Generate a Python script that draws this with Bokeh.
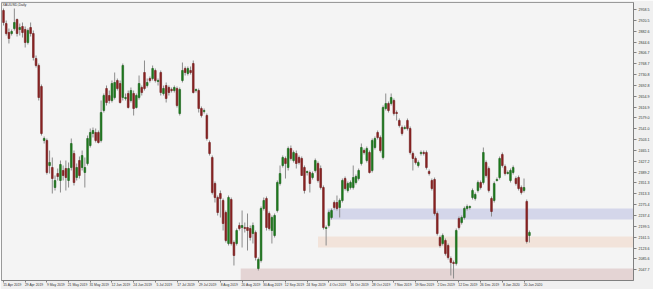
from bokeh.plotting import figure
from bokeh.models import Range1d, FixedTicker, Label, ColumnDataSource, PrintfTickFormatter, LinearAxis
from bokeh.embed import file_html
from bokeh.resources import INLINE

title_text = "XAUUSD,Daily"

opens = [2955, 2909.5, 2878, 2874.5, 2892, 2923.5, 2888.5, 2899, 2888.5, 2843,
         2895.5, 2874.5, 2787, 2762.5, 2689, 2500, 2500, 2412.5, 2405.5, 2335.5,
         2384.5, 2360, 2395, 2402, 2360, 2405.5, 2454.5, 2370.5, 2430, 2405.5,
         2388, 2419.5, 2482.5, 2524.5, 2528, 2528, 2500, 2605, 2682, 2657.5,
         2640, 2650.5, 2710, 2699.5, 2650.5, 2647, 2664.5, 2640, 2664.5, 2615.5,
         2650.5, 2685.5, 2738, 2692.5, 2717, 2717, 2745, 2706.5, 2738, 2664.5,
         2692.5, 2685.5, 2678.5, 2675, 2682, 2594.5, 2710, 2752, 2734.5, 2745,
         2769.5, 2675, 2675, 2612, 2601.5, 2587.5, 2493, 2440.5, 2349.5, 2300.5,
         2314.5, 2290, 2248, 2139.5, 2293.5, 2143, 2139.5, 2202.5, 2195.5, 2195.5,
         2195.5, 2192, 2174.5, 2178, 2052, 2080, 2262, 2297, 2244.5, 2185,
         2167.5, 2255, 2349.5, 2412.5, 2437, 2405.5, 2472, 2430, 2454.5, 2440.5,
         2437, 2405.5, 2388, 2388, 2370.5, 2395, 2419.5, 2402, 2335.5, 2192,
         2202.5, 2230.5, 2283, 2283, 2265.5, 2290, 2367, 2325, 2335.5, 2335.5,
         2353, 2367, 2419.5, 2465, 2430, 2458, 2395, 2475.5, 2528, 2510.5,
         2440.5, 2612, 2629.5, 2629.5, 2640, 2598, 2570, 2545.5, 2542, 2570,
         2542, 2454.5, 2437, 2412.5, 2454.5, 2458, 2458, 2391.5, 2360, 2363.5,
         2244.5, 2160.5, 2139.5, 2150, 2132.5, 2087, 2073, 2069.5, 2227, 2213,
         2230.5, 2262, 2265.5, 2300.5, 2297, 2325, 2353, 2353, 2423, 2402,
         2297, 2290, 2360, 2370.5, 2451, 2409, 2384.5, 2360, 2388, 2367,
         2370.5, 2335.5, 2325, 2286.5, 2167.5]

highs = [2962, 2920, 2892, 2888.5, 2962, 2927, 2909.5, 2913, 2899, 2892,
         2913, 2885, 2797.5, 2769.5, 2696, 2514, 2507, 2465, 2440.5, 2377.5,
         2402, 2430, 2412.5, 2430, 2423, 2507, 2465, 2419.5, 2444, 2465,
         2440.5, 2517.5, 2542, 2545.5, 2542, 2535, 2640, 2664.5, 2692.5, 2675,
         2710, 2738, 2717, 2710, 2769.5, 2664.5, 2675, 2685.5, 2675, 2664.5,
         2727.5, 2692.5, 2780, 2717, 2724, 2762.5, 2752, 2717, 2745, 2692.5,
         2703, 2692.5, 2685.5, 2692.5, 2689, 2685.5, 2773, 2759, 2759, 2759,
         2780, 2682, 2682, 2619, 2612, 2594.5, 2500, 2447.5, 2356.5, 2307.5,
         2325, 2297, 2255, 2307.5, 2300.5, 2150, 2192, 2213, 2255, 2213,
         2244.5, 2202.5, 2213, 2185, 2090.5, 2269, 2300.5, 2304, 2251.5, 2237.5,
         2244.5, 2360, 2412.5, 2447.5, 2444, 2479, 2482.5, 2465, 2465, 2447.5,
         2444, 2412.5, 2395, 2395, 2391.5, 2437, 2426.5, 2412.5, 2342.5, 2202.5,
         2255, 2262, 2290, 2307.5, 2297, 2367, 2374, 2356.5, 2360, 2412.5,
         2381, 2402, 2489.5, 2472, 2479, 2465, 2507, 2514, 2535, 2517.5,
         2622.5, 2664.5, 2636.5, 2664.5, 2647, 2605, 2577, 2552.5, 2552.5, 2577,
         2549, 2461.5, 2444, 2430, 2465, 2465, 2465, 2398.5, 2367, 2370.5,
         2251.5, 2167.5, 2174.5, 2157, 2139.5, 2094, 2080, 2192, 2234, 2237.5,
         2269, 2276, 2272.5, 2332, 2318, 2360, 2360, 2475.5, 2430, 2409,
         2304, 2356.5, 2370.5, 2444, 2458, 2416, 2395, 2402, 2412.5, 2374,
         2377.5, 2342.5, 2367, 2293.5, 2185]

lows = [2902.5, 2867.5, 2839.5, 2867.5, 2885, 2864, 2867.5, 2860.5, 2825.5, 2836,
        2864, 2780, 2755.5, 2640, 2517.5, 2489.5, 2381, 2384.5, 2314.5, 2325,
        2360, 2318, 2360, 2325, 2335.5, 2395, 2342.5, 2360, 2367, 2395,
        2335.5, 2412.5, 2475.5, 2510.5, 2493, 2489.5, 2493, 2598, 2622.5, 2629.5,
        2633, 2643.5, 2675, 2629.5, 2640, 2640, 2612, 2633, 2587.5, 2612,
        2643.5, 2657.5, 2675, 2685.5, 2703, 2710, 2703, 2692.5, 2657.5, 2657.5,
        2633, 2657.5, 2668, 2668, 2615.5, 2587.5, 2703, 2727.5, 2727.5, 2731,
        2664.5, 2668, 2598, 2580.5, 2594.5, 2500, 2447.5, 2311, 2283, 2237.5,
        2230.5, 2185, 2143, 2132.5, 2132.5, 2062.5, 2132.5, 2185, 2125.5, 2178,
        2115, 2150, 2139.5, 2080, 2045, 2073, 2255, 2185, 2185, 2139.5,
        2160.5, 2248, 2342.5, 2405.5, 2367, 2395, 2430, 2423, 2402, 2416,
        2377.5, 2314.5, 2377.5, 2318, 2363.5, 2388, 2353, 2328.5, 2188.5, 2132.5,
        2195.5, 2223.5, 2258.5, 2255, 2230.5, 2283, 2325, 2318, 2328.5, 2328.5,
        2346, 2360, 2412.5, 2451, 2423, 2384.5, 2388, 2468.5, 2503.5, 2458,
        2433.5, 2605, 2598, 2622.5, 2587.5, 2570, 2545.5, 2517.5, 2538.5, 2535,
        2451, 2395, 2416, 2405.5, 2447.5, 2447.5, 2398.5, 2377.5, 2325, 2237.5,
        2167.5, 2125.5, 2132.5, 2097.5, 2083.5, 2027.5, 2017, 2062.5, 2188.5, 2206,
        2223.5, 2255, 2258.5, 2293.5, 2290, 2318, 2328.5, 2346, 2370.5, 2318,
        2234, 2283, 2356.5, 2363.5, 2405.5, 2377.5, 2381, 2353, 2381, 2342.5,
        2325, 2311, 2318, 2139.5, 2143]

closes = [2913, 2874.5, 2857, 2881.5, 2913, 2874.5, 2895.5, 2878, 2843, 2885,
          2874.5, 2790.5, 2762.5, 2650.5, 2524.5, 2507, 2388, 2423, 2367, 2360,
          2374, 2416, 2377.5, 2370.5, 2402, 2489.5, 2353, 2405.5, 2377.5, 2447.5,
          2405.5, 2507, 2528, 2535, 2500, 2493, 2598, 2657.5, 2633, 2640,
          2699.5, 2703, 2682, 2633, 2762.5, 2650.5, 2615.5, 2675, 2612, 2657.5,
          2699.5, 2668, 2682, 2703, 2710, 2752, 2710, 2710, 2668, 2682,
          2647, 2668, 2675, 2685.5, 2622.5, 2678.5, 2745, 2738, 2752, 2738,
          2668, 2678.5, 2612, 2587.5, 2605, 2507, 2454.5, 2318, 2300.5, 2248,
          2297, 2209.5, 2150, 2300.5, 2139.5, 2097.5, 2185, 2192, 2202.5, 2192,
          2185, 2160.5, 2202.5, 2090.5, 2083.5, 2262, 2290, 2195.5, 2192, 2230.5,
          2237.5, 2353, 2384.5, 2440.5, 2419.5, 2472, 2437, 2458, 2419.5, 2423,
          2377.5, 2325, 2391.5, 2349.5, 2384.5, 2430, 2360, 2335.5, 2195.5, 2195.5,
          2248, 2255, 2265.5, 2262, 2290, 2360, 2332, 2349.5, 2353, 2370.5,
          2374, 2395, 2475.5, 2458, 2472, 2388, 2500, 2507, 2510.5, 2465,
          2615.5, 2629.5, 2605, 2650.5, 2594.5, 2594.5, 2552.5, 2524.5, 2545.5, 2542,
          2458, 2437, 2423, 2423, 2458, 2454.5, 2405.5, 2384.5, 2332, 2244.5,
          2174.5, 2132.5, 2167.5, 2104.5, 2090.5, 2073, 2069.5, 2185, 2195.5, 2230.5,
          2262, 2269, 2269, 2325, 2311, 2353, 2335.5, 2458, 2377.5, 2325,
          2251.5, 2349.5, 2363.5, 2437, 2412.5, 2384.5, 2388, 2395, 2405.5, 2349.5,
          2332, 2318, 2335.5, 2146.5, 2178]

x_tick_bars = [0, 8, 16, 24, 32, 40, 48, 56, 64, 72, 80, 88, 96, 104, 112,
               120, 128, 136, 144, 152, 160, 168, 176, 184, 192]
x_tick_labels = ["15 Apr 2019", "29 Apr 2019", "9 May 2019", "21 May 2019", "31 May 2019",
                 "12 Jun 2019", "24 Jun 2019", "5 Jul 2019", "17 Jul 2019", "29 Jul 2019",
                 "8 Aug 2019", "20 Aug 2019", "30 Aug 2019", "12 Sep 2019", "24 Sep 2019",
                 "4 Oct 2019", "16 Oct 2019", "28 Oct 2019", "7 Nov 2019", "19 Nov 2019",
                 "2 Dec 2019", "12 Dec 2019", "26 Dec 2019", "8 Jan 2020", "20 Jan 2020"]
y_tick_values = [2958.5, 2920.5, 2882.6, 2844.6, 2806.7, 2768.7, 2730.8, 2692.8, 2654.9,
                 2616.9, 2579.0, 2541.0, 2503.1, 2465.1, 2427.2, 2389.2, 2351.3, 2313.3,
                 2275.4, 2237.4, 2199.5, 2161.5, 2123.6, 2085.6, 2047.7]

zone_start = [87.5, 116.0, 119.5]
zone_end = [260.0, 260.0, 260.0]
zone_top = [2052.0, 2164.0, 2262.0]
zone_bottom = [2005.0, 2125.5, 2223.5]
zone_colors = ["#e4d4d4", "#f2e3da", "#d4d6ea"]

n = len(closes)
idx = list(range(n))
bull = [c >= o for o, c in zip(opens, closes)]
src = ColumnDataSource(dict(
    x=idx, o=opens, h=highs, l=lows, c=closes,
    top=[max(o, c) for o, c in zip(opens, closes)],
    bot=[min(o, c) for o, c in zip(opens, closes)],
    fill=["#1f7f1f" if b else "#8e2424" for b in bull],
    line=["#176017" if b else "#6e1a1a" for b in bull],
))

p = figure(width=653, height=289, output_backend="svg", toolbar_location=None,
           y_axis_location="right",
           x_range=Range1d(-0.74, 232.38), y_range=Range1d(2010, 2983),
           min_border_left=1, min_border_right=20, min_border_top=2, min_border_bottom=9)
p.background_fill_color = "#f4f4f4"
p.border_fill_color = "#f0f0f0"
p.outline_line_color = "#9a9a9a"
p.grid.visible = False

p.quad(left=zone_start, right=zone_end, top=zone_top, bottom=zone_bottom,
       fill_color=zone_colors, line_color=None)

p.segment(x0="x", y0="h", x1="x", y1="l", source=src, line_color="#8c8c8c", line_width=1)
p.vbar(x="x", top="top", bottom="bot", width=0.62, source=src,
       fill_color="fill", line_color="line", line_width=0.6)

p.add_layout(Label(x=-0.4, y=2981, text=title_text, text_font_size="3.6px",
                   text_baseline="top", text_color="#333333",
                   text_font="Liberation Sans"))

# tick-mark axis (closest to frame), labels hidden
xa = p.xaxis[0]
xa.ticker = FixedTicker(ticks=x_tick_bars)
xa.major_label_overrides = {b: "" for b in x_tick_bars}
xa.major_label_text_font_size = "1px"
xa.major_label_standoff = 0
xa.major_tick_out = 2
xa.major_tick_in = 0
xa.minor_tick_line_color = None
xa.axis_line_color = "#808080"
xa.major_tick_line_color = "#808080"

# label axis: labels start just right of each tick (MetaTrader style)
label_shift = 3.3
shifted = [b + label_shift for b in x_tick_bars]
xl = LinearAxis(ticker=FixedTicker(ticks=shifted),
                major_label_overrides={s: t for s, t in zip(shifted, x_tick_labels)},
                major_label_text_font_size="3.4px",
                major_label_text_font="Liberation Sans",
                major_label_text_color="#333333",
                major_label_standoff=0,
                major_tick_out=0, major_tick_in=0,
                major_tick_line_color=None, minor_tick_line_color=None,
                axis_line_color=None)
p.add_layout(xl, "below")

ya = p.yaxis[0]
ya.ticker = FixedTicker(ticks=y_tick_values)
ya.formatter = PrintfTickFormatter(format="%.1f")
ya.major_label_text_font_size = "3.6px"
ya.major_label_text_font = "Liberation Sans"
ya.major_label_text_color = "#333333"
ya.major_label_standoff = 2
ya.major_tick_out = 3
ya.major_tick_in = 0
ya.minor_tick_line_color = None
ya.axis_line_color = "#808080"
ya.major_tick_line_color = "#808080"

open("out.html", "w").write(file_html(p, INLINE))
